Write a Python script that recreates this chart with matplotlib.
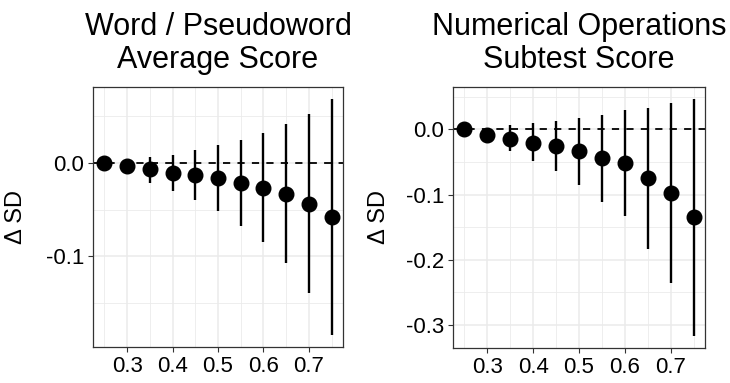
import matplotlib
matplotlib.use("Agg")
import matplotlib.pyplot as plt
import numpy as np
from matplotlib.ticker import MultipleLocator, FixedLocator

plt.rcParams['font.family'] = ['Liberation Sans', 'DejaVu Sans']
plt.rcParams['axes.unicode_minus'] = False

x = [0.25, 0.30, 0.35, 0.40, 0.45, 0.50, 0.55, 0.60, 0.65, 0.70, 0.75]

word_est = [0.0, -0.0036, -0.0068, -0.0108, -0.0129, -0.0165, -0.0215, -0.0265, -0.033, -0.0437, -0.058]
word_lo = [0.0, -0.009, -0.0219, -0.030, -0.040, -0.052, -0.068, -0.085, -0.1075, -0.140, -0.185]
word_hi = [0.0, 0.002, 0.0068, 0.009, 0.0136, 0.019, 0.025, 0.032, 0.0416, 0.0527, 0.069]

num_est = [0.0, -0.0082, -0.0143, -0.021, -0.026, -0.034, -0.044, -0.051, -0.075, -0.097, -0.135]
num_lo = [0.0, -0.015, -0.034, -0.049, -0.0635, -0.0855, -0.111, -0.133, -0.184, -0.235, -0.317]
num_hi = [0.0, 0.0, 0.006, 0.009, 0.013, 0.017, 0.0225, 0.029, 0.032, 0.040, 0.0466]

titles = ["Word / Pseudoword\nAverage Score", "Numerical Operations\nSubtest Score"]
x_major = [0.3, 0.4, 0.5, 0.6, 0.7]
x_tick_labels = ["0.3", "0.4", "0.5", "0.6", "0.7"]
word_y_major = [0.0, -0.1]
word_y_labels = ["0.0", "-0.1"]
num_y_major = [0.0, -0.1, -0.2, -0.3]
num_y_labels = ["0.0", "-0.1", "-0.2", "-0.3"]

fig = plt.figure(figsize=(7.3, 3.83), dpi=100)
W, H = 730, 383
boxes = [(93, 87, 343, 347), (453, 87, 705, 348)]
label_x = [-0.264, -0.25]

panels = [
    (word_est, word_lo, word_hi, word_y_major, word_y_labels, 0.05),
    (num_est, num_lo, num_hi, num_y_major, num_y_labels, 0.05),
]

for i, (est, lo, hi, ymaj, ylab, minstep) in enumerate(panels):
    l, t, r, b = boxes[i]
    ax = fig.add_axes([l / W, 1 - b / H, (r - l) / W, (b - t) / H])
    est = np.array(est); lo = np.array(lo); hi = np.array(hi)
    ymin, ymax = lo.min(), hi.max()
    rng = ymax - ymin
    ax.set_ylim(ymin - 0.05 * rng, ymax + 0.05 * rng)
    ax.set_xlim(0.225, 0.775)

    ax.set_xticks(x_major)
    ax.set_xticklabels(x_tick_labels)
    ax.xaxis.set_minor_locator(FixedLocator([0.25, 0.35, 0.45, 0.55, 0.65, 0.75]))
    ax.set_yticks(ymaj)
    ax.set_yticklabels(ylab)
    ax.yaxis.set_minor_locator(MultipleLocator(minstep))
    ax.grid(True, which='major', color='#EBEBEB', linewidth=1.1)
    ax.grid(True, which='minor', color='#EBEBEB', linewidth=0.6)
    ax.set_axisbelow(True)
    ax.tick_params(which='minor', length=0)
    ax.tick_params(which='major', length=3.5, width=0.8, color='#333333',
                   labelsize=16, labelcolor='black', pad=3)
    for s in ax.spines.values():
        s.set_color('#333333')
        s.set_linewidth(0.9)

    ax.axhline(0, color='black', linewidth=1.3, linestyle=(0, (4, 4)), zorder=2)
    ax.vlines(x, lo, hi, color='black', linewidth=1.7, zorder=3)
    ax.plot(x, est, 'o', color='black', markersize=10.5, zorder=4)

    ax.set_title(titles[i], fontsize=22, pad=14, linespacing=1.1)
    ax.set_ylabel("Δ SD", fontsize=17)
    ax.yaxis.set_label_coords(label_x[i], 0.5)

fig.savefig("out.png", dpi=100)
